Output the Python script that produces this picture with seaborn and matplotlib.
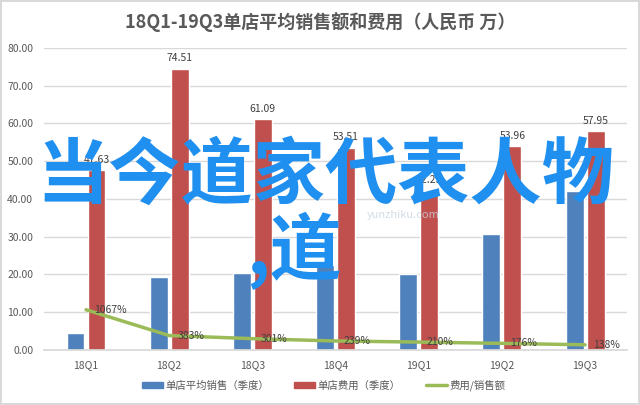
import numpy as np
import pandas as pd
import matplotlib
matplotlib.use("Agg")
import matplotlib.pyplot as plt
from matplotlib.patches import Patch
from matplotlib.lines import Line2D
import seaborn as sns

sns.set_theme(style="white")
plt.rcParams['font.family'] = ['Noto Sans CJK SC', 'DejaVu Sans']

quarters = ["18Q1", "18Q2", "18Q3", "18Q4", "19Q1", "19Q2", "19Q3"]
sales = [4.46, 19.45, 20.30, 22.39, 20.11, 30.66, 41.99]
costs = [47.63, 74.51, 61.09, 53.51, 42.23, 53.96, 57.95]
ratio_pct = [1067, 383, 301, 239, 210, 176, 138]
yticks = [0, 10, 20, 30, 40, 50, 60, 70, 80]

s_sales = "单店平均销售（季度）"
s_cost = "单店费用（季度）"
s_ratio = "费用/销售额"
title = "18Q1-19Q3单店平均销售额和费用（人民币 万）"

blue = "#4f81bd"
red = "#c0504d"
green = "#9bbb59"
grey = "#595959"

df = pd.DataFrame({
    "quarter": quarters * 2,
    "value": sales + costs,
    "series": [s_sales] * len(quarters) + [s_cost] * len(quarters),
})

fig = plt.figure(figsize=(6.4, 4.05), dpi=100)
fig.patch.set_edgecolor("#d9d9d9")
fig.patch.set_linewidth(1.5)
ax = fig.add_axes([0.0694, 0.1358, 0.9097, 0.7457])

sns.barplot(data=df, x="quarter", y="value", hue="series", order=quarters,
            hue_order=[s_sales, s_cost], palette=[blue, red],
            width=0.505, gap=0.145, saturation=1, legend=False, ax=ax, zorder=2)

ratio_vals = [p / 100 for p in ratio_pct]
xs = np.arange(len(quarters))
sns.lineplot(x=xs, y=ratio_vals, color=green, linewidth=2.5, ax=ax, zorder=3)

ax.bar_label(ax.containers[1], labels=[f"{v:.2f}" for v in costs],
             padding=4, fontsize=7.5, color="#404040")

for x, v, p in zip(xs, ratio_vals, ratio_pct):
    ax.annotate(f"{p}%", (x, v), xytext=(6, 0), textcoords="offset points",
                ha="left", va="center", fontsize=7.5, color="#404040", zorder=4)

ax.set_xlim(-0.5, len(quarters) - 0.5)
ax.set_ylim(0, 80)
ax.set_yticks(yticks)
ax.set_yticklabels([f"{t:.2f}" for t in yticks])
ax.yaxis.grid(True, color="#d9d9d9", linewidth=1)
ax.set_axisbelow(True)
for s in ["top", "right", "left"]:
    ax.spines[s].set_visible(False)
ax.spines["bottom"].set_color("#d9d9d9")
ax.tick_params(axis="both", length=0, labelsize=7.5, labelcolor=grey)
ax.tick_params(axis="x", pad=7)
ax.tick_params(axis="y", pad=8)
ax.set_xlabel("")
ax.set_ylabel("")

fig.text(0.5, 0.945, title, ha="center", va="center", fontsize=13,
         fontweight="bold", color=grey)

handles = [Patch(color=blue), Patch(color=red),
           Line2D([0], [0], color=green, linewidth=2.5)]
fig.legend(handles, [s_sales, s_cost, s_ratio], loc="center",
           bbox_to_anchor=(0.506, 0.048), ncol=3, frameon=False, fontsize=7.5,
           handlelength=2.0, handleheight=0.6, columnspacing=2.4,
           handletextpad=0.25, labelcolor=grey)

# faint watermark
fig.text(0.63, 0.47, "yunzhiku.com", fontsize=8, color="#c8d4e0",
         style="italic", ha="center", va="center", alpha=0.8)

# overlay text
fig.text(0.508, 0.565, "当今道家代表人物", ha="center", va="center",
         fontsize=52, fontweight="bold", color="#2090f0")
fig.text(0.385, 0.38, ",道", ha="left", va="center",
         fontsize=52, fontweight="bold", color="#2090f0")

fig.savefig("out.png", dpi=100)
